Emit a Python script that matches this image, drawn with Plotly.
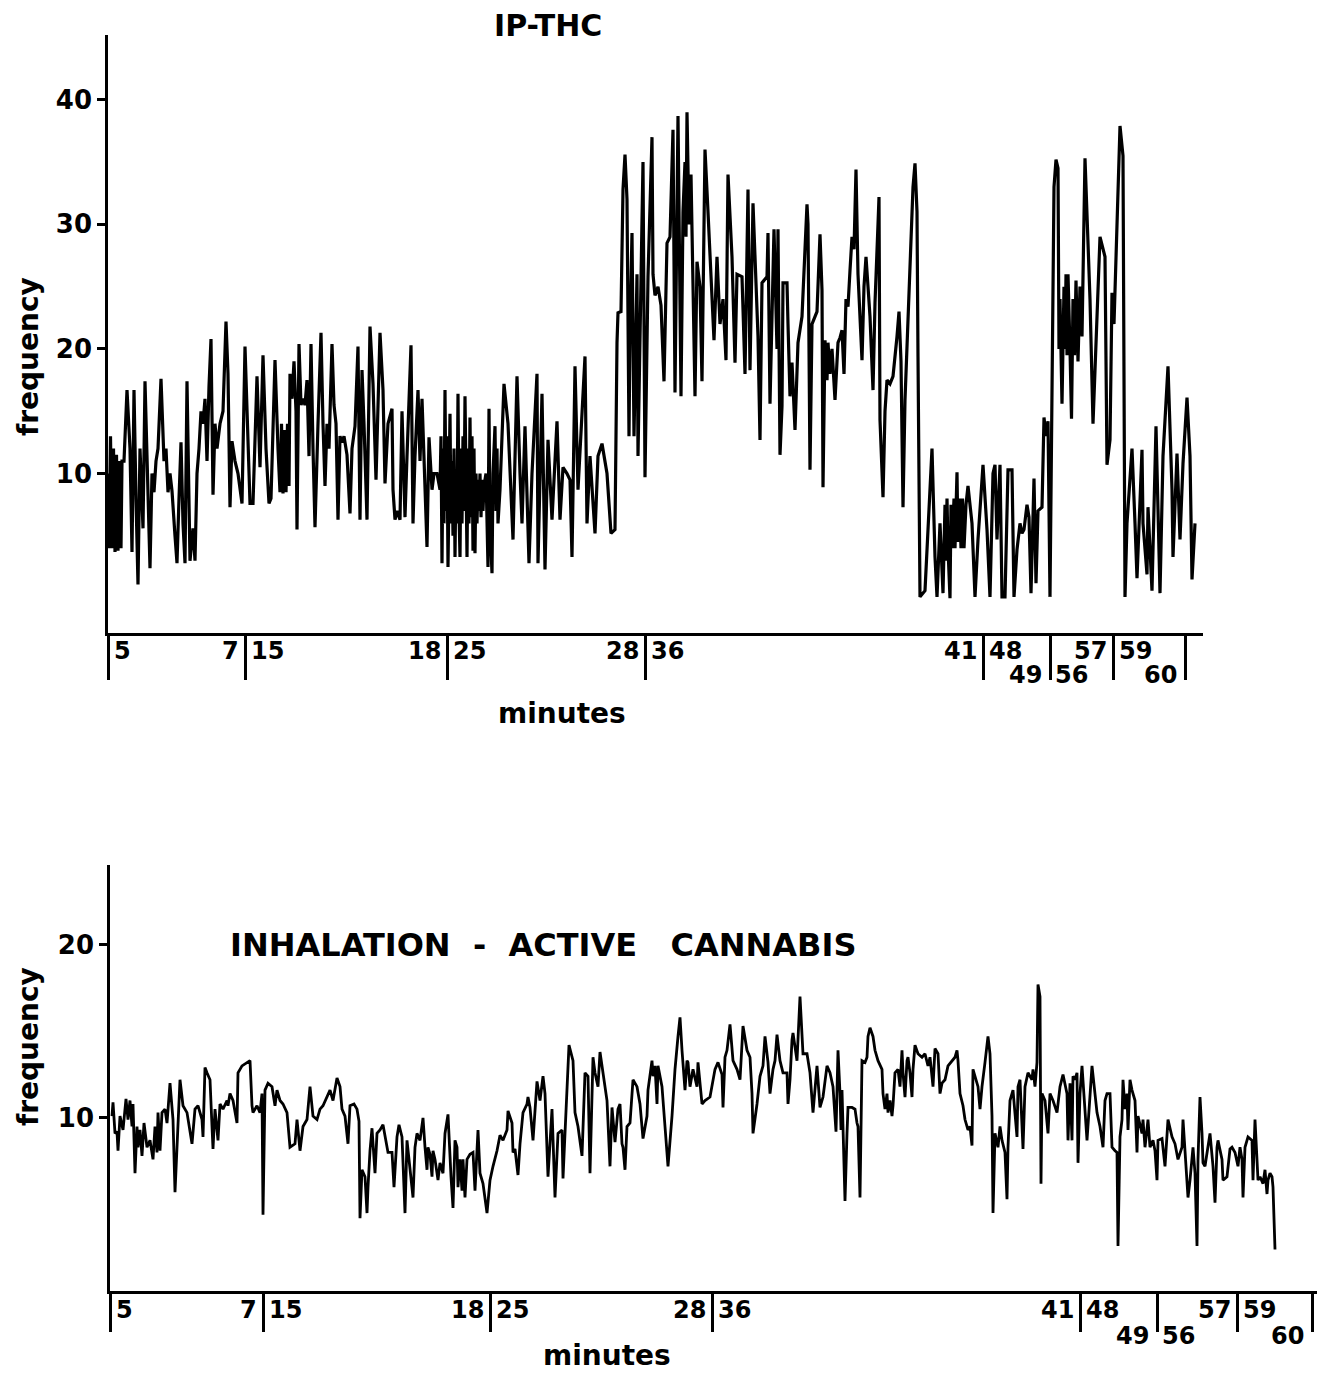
import plotly.graph_objects as go

# ---------------- DATA ----------------
# Top panel: IP-THC (recording position along the compressed time axis, frequency)
top_pos = [
    108, 109, 110.5, 112, 113.5, 115, 116.5, 118, 119.5, 121, 122, 124,
    127, 130, 132, 134, 136, 138, 140, 143, 145, 148, 150, 152,
    154, 156, 158, 161, 164, 166, 168, 170, 172, 175, 177, 179,
    181, 183, 185, 187, 189, 190, 193, 195, 197, 199, 201, 203,
    205, 207, 209, 211, 213, 215, 217, 220, 223, 226, 228, 230,
    232, 235, 238, 242, 245, 248, 250, 253, 257, 260, 263, 266,
    269, 271, 275, 278, 280, 281.5, 283, 284.5, 286, 287.5, 289, 290,
    292, 294, 296, 297, 299, 301, 303, 305, 307, 309, 311, 313,
    315, 318, 321, 323, 325, 327, 329, 332, 334, 336, 338, 340,
    342, 344, 347, 350, 352, 355, 358, 360, 362, 364, 367, 370,
    373, 376, 380, 383, 385, 388, 392, 393, 395, 397, 400, 402,
    405, 407, 411, 413, 415, 418, 420, 422, 424, 427, 429, 432,
    434, 437, 440, 441, 442, 443, 444, 445, 446, 447, 448, 449,
    450, 451, 452, 453, 454, 455, 456, 457, 458, 459, 460, 461,
    462, 463, 464, 465, 466, 467, 468, 469, 470, 471, 472, 473,
    474, 475, 476, 477, 478, 479, 480, 481, 482, 483, 484, 486,
    488, 489, 490, 492, 493, 495, 496, 497, 498, 500, 504, 508,
    513, 517, 520, 522, 525, 529, 532, 537, 538, 542, 545, 548,
    552, 557, 560, 563, 567, 570, 572, 575, 578, 585, 587, 590,
    595, 598, 602, 607, 611, 615, 617, 618, 621, 623, 625, 627,
    629, 630, 632, 634, 637, 638, 643, 645, 648, 652, 653, 655,
    658, 661, 664, 667, 670, 673, 675, 678, 681, 683, 685, 686,
    687, 689, 691, 693, 695, 697, 700, 702, 705, 708, 711, 714,
    717, 720, 723, 726, 728, 732, 735, 737, 742, 745, 748, 750,
    753, 756, 758, 760, 762, 767, 768, 770, 774, 777, 778, 780,
    782, 783, 787, 788, 790, 792, 795, 798, 802, 807, 808, 810,
    812, 817, 820, 822, 823, 825, 827, 828, 830, 832, 834, 835,
    838, 840, 842, 844, 846, 848, 850, 852, 854, 856, 858, 860,
    862, 864, 866, 868, 870, 873, 875, 878, 879, 880, 883, 885,
    887, 890, 893, 897, 899, 901, 903, 905, 910, 913, 915, 917,
    918, 920, 925, 932, 935, 937, 940, 943, 945, 946, 947, 948,
    950, 951, 952, 954, 955, 957, 958, 959.5, 961, 962.5, 964, 966,
    968, 972, 975, 978, 983, 987, 990, 993, 995, 997, 1000, 1002,
    1005, 1008, 1012, 1014, 1017, 1020, 1022, 1024, 1027, 1029, 1031, 1034,
    1036, 1038, 1042, 1044, 1046, 1048, 1050, 1054, 1056, 1058, 1059, 1060,
    1062, 1064, 1065, 1066, 1067, 1068, 1070, 1071.5, 1073, 1074.5, 1076, 1078,
    1080, 1082, 1085, 1088, 1090, 1093, 1095, 1100, 1105, 1107, 1110, 1112,
    1114, 1117, 1120, 1123, 1125, 1127, 1132, 1135, 1137, 1142, 1143, 1147,
    1148, 1152, 1156, 1160, 1163, 1168, 1172, 1173, 1177, 1180, 1183, 1187,
    1190, 1192, 1195,
]
top_freq = [
    10, 4, 13, 4, 12, 3.7, 11.5, 3.8, 11, 4, 11, 11,
    16.7, 12, 3.7, 16.7, 8, 1.1, 12, 5.6, 17.4, 9, 2.4, 10,
    8.5, 11, 12, 17.6, 11, 12, 8.5, 10, 8.6, 5, 2.8, 8,
    12.5, 6, 2.8, 17.4, 9, 3, 5.6, 3, 10, 12, 15, 14,
    16, 11, 17, 20.8, 8.3, 14, 12, 14, 15, 22.2, 18, 7.3,
    12.6, 11, 10, 7.6, 20.2, 12, 7.6, 7.6, 17.8, 10.5, 19.5, 12,
    7.6, 8, 19.1, 12, 8.5, 14, 8.4, 13.5, 8.5, 14, 9, 18,
    16, 19, 15, 5.5, 20.4, 15.5, 16, 15.5, 17.5, 11.4, 20.4, 12,
    5.7, 14, 21.3, 14, 9, 14, 12, 20.4, 15.5, 14, 6.3, 13,
    12.5, 13, 11.5, 6.8, 12, 13.8, 20.2, 6.3, 18.3, 14, 6.3, 21.8,
    17.2, 9.5, 21.3, 16.7, 9.2, 14, 15.2, 8.7, 6.3, 7, 6.3, 15,
    6.5, 11.4, 20.3, 6, 11.4, 16.7, 11, 16, 10.8, 4.1, 12.9, 8.7,
    10, 10, 8.7, 13, 2.8, 12, 6, 16.7, 7, 13, 2.5, 12,
    14.8, 6, 11, 5, 12, 3.3, 10, 6, 16.4, 7, 3.3, 12,
    6, 13, 7, 16.2, 8, 3.3, 12, 6, 14.5, 6.5, 13, 3.8,
    12, 3.6, 10, 6, 9.5, 7, 10, 6.5, 9.5, 7, 9, 10,
    2.5, 15.2, 6, 2, 10, 13.8, 7, 12, 6, 8.7, 17.2, 14,
    4.7, 17.8, 10, 6, 13.8, 2.8, 10, 18, 2.8, 16.4, 2.3, 12.7,
    6.3, 14.2, 6.3, 10.5, 10, 9.5, 3.3, 18.6, 8.7, 19.4, 6, 11.4,
    5.2, 11.4, 12.4, 10, 5.2, 5.5, 20.5, 22.9, 23, 32.8, 35.6, 32,
    13, 21.5, 29.3, 13, 26, 11.4, 35, 9.7, 25.8, 37, 26, 24.3,
    25, 23.5, 17.4, 28.5, 29, 37.6, 16.5, 38.7, 16.2, 31, 35, 29,
    39, 30, 34, 23, 16.2, 27, 25, 17.4, 36, 31, 26, 20.7,
    27.4, 22, 24, 19.1, 34, 27.4, 18.9, 26, 25.8, 18, 32.8, 18.3,
    31.7, 25.8, 21, 12.7, 25.3, 25.8, 29.3, 15.6, 29.6, 20, 29.6, 11.5,
    15.4, 25.3, 25.3, 22, 16.2, 18.9, 13.5, 20.5, 22.6, 31.6, 30, 10.3,
    22, 23, 29.2, 24.7, 8.9, 20.7, 17.5, 20.5, 18, 20, 17.5, 15.9,
    20.5, 20.9, 21.5, 18, 24, 23.4, 26.3, 29, 28, 34.4, 26, 23,
    19.1, 25, 27.4, 25, 22.6, 16.7, 23.7, 30, 32.2, 14.3, 8.1, 15,
    17.5, 17.2, 17.8, 21, 23, 19, 7.3, 15.9, 27.7, 33, 34.9, 31,
    19.4, 0.1, 0.6, 12, 3.3, 0.1, 6, 0.4, 7.5, 3, 8, 4,
    0, 7.5, 4, 8, 4, 10.1, 4.5, 8, 4, 8, 4, 7.5,
    9, 6, 0.1, 4.7, 10.7, 5.5, 0.1, 10, 10.7, 4.7, 10.7, 0.1,
    0.1, 10.3, 10.3, 0.1, 3.9, 6, 5.2, 5.5, 7.5, 6.5, 0.4, 9.6,
    1.2, 7, 7.3, 14.5, 13, 14.2, 0.1, 33, 35.2, 34.5, 20, 24,
    15.6, 25, 20, 26, 19.5, 26, 20, 14.4, 24, 19.5, 25.5, 19,
    25, 21, 35.3, 28, 24, 14, 18, 29, 27.4, 10.7, 12.7, 24.5,
    22, 30, 37.9, 35.5, 0.1, 6, 12, 6, 1.6, 11.9, 6, 1.9,
    7.3, 0.6, 13.8, 0.4, 11.4, 18.6, 8.7, 3.3, 11.6, 4.7, 10.8, 16.1,
    11.4, 1.5, 6,
]

# Bottom panel: inhalation - active cannabis
bottom_pos = [
    112, 113, 115, 117, 118, 120, 123, 126, 128, 130, 132, 133,
    135, 137, 138, 140, 142, 144, 147, 150, 153, 155, 157, 158,
    160, 162, 165, 167, 170, 173, 175, 178, 180, 183, 187, 192,
    195, 198, 202, 203, 205, 207, 210, 212, 213, 215, 218, 220,
    223, 227, 228, 230, 233, 237, 238, 242, 247, 250, 252, 253,
    257, 260, 262, 263, 265, 268, 272, 275, 277, 280, 283, 287,
    290, 295, 297, 300, 303, 307, 310, 313, 317, 320, 323, 327,
    330, 333, 337, 340, 342, 345, 348, 350, 354, 357, 359, 360,
    362, 365, 367, 368, 370, 372, 375, 377, 380, 383, 385, 388,
    392, 394, 397, 399, 402, 405, 407, 410, 413, 415, 417, 420,
    423, 425, 427, 428, 430, 432, 433, 435, 438, 440, 443, 445,
    448, 451, 453, 455, 457, 458, 460, 462, 463, 465, 467, 470,
    473, 475, 478, 480, 483, 487, 490, 493, 497, 500, 503, 507,
    508, 512, 513, 515, 518, 520, 523, 527, 528, 530, 533, 537,
    540, 543, 545, 548, 552, 555, 558, 562, 563, 565, 569, 573,
    575, 578, 582, 585, 588, 590, 592, 593, 595, 598, 600, 603,
    607, 610, 612, 615, 618, 620, 622, 623, 625, 627, 630, 633,
    637, 640, 643, 647, 648, 652, 653, 655, 657, 658, 662, 665,
    668, 672, 675, 678, 680, 682, 685, 687, 688, 690, 693, 697,
    698, 702, 705, 710, 715, 718, 722, 723, 725, 727, 730, 733,
    737, 740, 742, 743, 747, 750, 752, 753, 757, 760, 763, 765,
    768, 770, 773, 775, 777, 780, 783, 787, 788, 790, 792, 793,
    797, 800, 803, 807, 810, 813, 817, 820, 823, 827, 830, 833,
    836, 838, 840, 841, 842, 843, 845, 847, 848, 852, 855, 857,
    858, 860, 862, 865, 867, 868, 870, 873, 875, 878, 882, 883,
    885, 887, 888, 890, 892, 893, 895, 898, 900, 902, 903, 905,
    907, 908, 910, 912, 913, 915, 918, 922, 925, 928, 930, 933,
    935, 938, 940, 942, 945, 948, 952, 955, 957, 958, 960, 963,
    965, 968, 970, 972, 973, 975, 978, 980, 982, 985, 987, 988,
    990, 992, 993, 995, 998, 1000, 1002, 1005, 1007, 1008, 1010, 1013,
    1017, 1018, 1020, 1022, 1023, 1025, 1028, 1032, 1033, 1035, 1037, 1038,
    1040, 1041, 1042, 1045, 1048, 1050, 1053, 1057, 1060, 1063, 1067, 1068,
    1070, 1072, 1073, 1075, 1077, 1078, 1080, 1082, 1084, 1087, 1092, 1095,
    1097, 1100, 1103, 1105, 1107, 1110, 1112, 1115, 1117, 1118, 1120, 1122,
    1123, 1125, 1127, 1128, 1130, 1132, 1135, 1137, 1138, 1142, 1143, 1145,
    1148, 1150, 1153, 1155, 1157, 1158, 1162, 1165, 1168, 1172, 1175, 1178,
    1182, 1183, 1185, 1188, 1190, 1192, 1193, 1195, 1197, 1198, 1200, 1202,
    1203, 1205, 1208, 1210, 1213, 1215, 1217, 1218, 1222, 1223, 1227, 1230,
    1232, 1235, 1238, 1240, 1242, 1243, 1245, 1248, 1252, 1253, 1255, 1257,
    1258, 1260, 1263, 1265, 1267, 1268, 1270, 1272, 1273, 1275,
]
bottom_freq = [
    10.1, 10.9, 9.1, 9.2, 8.1, 10.1, 9.3, 11.1, 9.9, 11, 9.5, 10.8,
    6.8, 9.5, 8.3, 9.3, 7.8, 9.7, 8.3, 8.7, 7.6, 9.5, 8, 10.3,
    8.1, 10.3, 10.5, 9.7, 12, 9.9, 5.7, 10.1, 12.2, 10.7, 10.3, 8.5,
    10.5, 10.7, 9.9, 8.9, 12.9, 12.6, 12.2, 9.5, 8.2, 10.5, 8.7, 10.8,
    10.5, 11, 10.7, 11.4, 11, 9.7, 12.6, 13, 13.2, 13.3, 10.7, 10.3,
    10.7, 10.3, 11.4, 4.4, 11.6, 12, 11.8, 10.7, 11.6, 11, 10.8, 10.3,
    8.3, 8.5, 9.9, 8.1, 9.5, 9.9, 11.8, 10.1, 9.9, 10.5, 10.7, 11.2,
    11.6, 11, 12.3, 11.8, 10.5, 10.1, 8.5, 10.7, 10.8, 10.5, 9.8, 4.2,
    7, 6.6, 4.5, 6, 8.1, 9.4, 6.8, 9.1, 9.3, 9.6, 8.9, 8,
    8, 6, 8.9, 9.6, 8.9, 4.5, 8.7, 7.2, 5.4, 8.3, 9.1, 8.7,
    10, 8.3, 7, 8.3, 7.9, 6.6, 8.1, 7.6, 6.4, 7.4, 6.8, 9.1,
    10.2, 6.6, 4.8, 8.7, 8.3, 6, 7.6, 5.8, 7.6, 5.4, 7.6, 7.9,
    8, 5.8, 9.3, 6.8, 6.2, 4.5, 6.4, 7.2, 8.1, 9, 8.7, 9.3,
    10.4, 9.7, 8, 8.2, 6.7, 8.5, 10.3, 10.8, 11.2, 10.6, 8.7, 12.1,
    11, 12.4, 11.4, 6.6, 10.5, 5.4, 9.1, 9.3, 6.5, 9.1, 14.2, 13.3,
    10.3, 9.5, 7.8, 12.6, 12.4, 6.8, 12.6, 13.5, 12.6, 11.8, 13.8, 12.6,
    11, 7.2, 10.6, 8.6, 10.5, 10.8, 8.5, 8.3, 7, 9.5, 9.7, 12.2,
    11.8, 10.8, 8.8, 10.1, 11.6, 13.3, 12.4, 13, 10.8, 13, 11.8, 9.5,
    7.2, 10.1, 12.8, 14.7, 15.8, 13.9, 11.6, 13.3, 13.2, 11.8, 12.8, 11.8,
    13.2, 10.8, 11, 11.2, 12.8, 13.2, 12.5, 10.6, 13.5, 13.9, 15.4, 13.3,
    12.8, 12.2, 14.5, 15.3, 13.9, 13.5, 11.4, 9.1, 10.8, 12.4, 13, 14.7,
    13.2, 11.4, 12.8, 13.3, 14.8, 13.3, 12.6, 12.6, 10.8, 12.2, 14.5, 14.9,
    13.3, 17, 13.7, 13.7, 12.6, 10.3, 13, 10.6, 11.2, 13, 12.6, 11.8,
    9.2, 13.9, 11.4, 9.3, 11.6, 9.5, 5.2, 9.1, 10.6, 10.6, 10.5, 9.7,
    9.5, 5.4, 13.3, 13.2, 13.5, 14.7, 15.2, 14.7, 13.9, 13.3, 12.8, 11.4,
    10.5, 11.4, 10.3, 11, 10.1, 10.7, 12.6, 12.8, 11.8, 13.9, 12.6, 11.2,
    13.3, 13.5, 12.6, 11.2, 12.8, 14.2, 13.7, 13.5, 13.7, 13, 13.5, 11.8,
    14, 13.7, 11.4, 12, 12.2, 13, 13.3, 13.5, 13.9, 13.3, 11.4, 10.7,
    9.9, 9.3, 9.5, 8.4, 12.8, 12.4, 11.8, 10.5, 11.8, 13.2, 14.5, 14.7,
    13.7, 10.1, 4.5, 9.1, 8.3, 9.5, 8.7, 8, 5.3, 8.3, 11, 11.6,
    8.9, 11.8, 12.2, 9.1, 8.2, 11.8, 12.6, 12.2, 12.8, 11.8, 13.2, 17.7,
    17, 6.2, 11.4, 11, 9.1, 11.4, 11, 10.3, 11.8, 12.5, 11.4, 8.7,
    12, 8.7, 12.4, 12.2, 12.6, 7.4, 11.4, 13, 11, 8.7, 13, 11.4,
    10.3, 9.5, 8.3, 11, 11.4, 11.4, 8.3, 8.1, 8, 2.6, 8.9, 9.9,
    12.2, 10.5, 11.4, 9.3, 12.2, 11.6, 11, 8, 10.1, 9.1, 9.9, 8.3,
    9.9, 8.3, 8.7, 8.1, 6.4, 8.7, 8.8, 7.2, 9.9, 8.9, 8.5, 7.6,
    8.3, 9.9, 8.3, 5.4, 6.4, 7.6, 8.3, 6.8, 2.6, 7.6, 11.2, 9.1,
    7.4, 7.2, 8.3, 9.1, 7.2, 5.1, 8.3, 8.7, 7.6, 6.4, 6.6, 8.2,
    8.3, 8, 7.2, 8.3, 7.6, 5.4, 8.3, 8.9, 8.7, 6.4, 9.9, 7.6,
    6.4, 6.6, 6.2, 7, 5.6, 6.4, 6.8, 6.6, 6, 2.4,
]

# Segment boundaries of the compressed minute axis and their labels
top_breaks = [108, 245, 447, 645, 983, 1050, 1113, 1185]
bottom_breaks = [110, 263, 490, 712, 1080, 1157, 1237, 1312]
# (label left of break, label right of break, lower-left, lower-right)
break_labels = [
    ("", "5", "", ""),
    ("7", "15", "", ""),
    ("18", "25", "", ""),
    ("28", "36", "", ""),
    ("41", "48", "", ""),
    ("", "", "49", "56"),
    ("57", "59", "", ""),
    ("", "", "60", ""),
]
top_yticks = [10, 20, 30, 40]
bottom_yticks = [10, 20]

# ---------------- FIGURE ----------------
# The page body keeps its default 8px margin, so the figure is 16px smaller
# than the window and all layout positions are measured from the window corner.
PAD = 8
WIN_W, WIN_H = 1325, 1381
W, H = WIN_W - 2 * PAD, WIN_H - 2 * PAD
FONT = "DejaVu Sans"


def px(x):
    return min(1.0, max(0.0, (x - PAD) / W))


def py(y):
    return min(1.0, max(0.0, 1 - (y - PAD) / H))


BOTTOM_END = WIN_W - PAD  # right end of the lower axis line (window edge)

fig = go.Figure()
fig.add_trace(go.Scatter(x=top_pos, y=top_freq, mode="lines",
                         line=dict(color="black", width=3.2),
                         xaxis="x", yaxis="y", showlegend=False,
                         hoverinfo="skip"))
fig.add_trace(go.Scatter(x=bottom_pos, y=bottom_freq, mode="lines",
                         line=dict(color="black", width=2.8),
                         xaxis="x2", yaxis="y2", showlegend=False,
                         hoverinfo="skip"))

xcommon = dict(showline=True, linecolor="black", linewidth=2.5,
               ticks="outside", tickcolor="black", tickwidth=2.5,
               showticklabels=False, showgrid=False, zeroline=False,
               fixedrange=True)
ycommon = dict(showline=True, linecolor="black", linewidth=2.5,
               ticks="outside", tickcolor="black", tickwidth=2.5, ticklen=8,
               tickfont=dict(family=FONT, size=26, color="black", weight="bold"),
               showgrid=False, zeroline=False, fixedrange=True)

fig.update_layout(
    width=W, height=H,
    margin=dict(l=0, r=0, t=0, b=0),
    paper_bgcolor="white", plot_bgcolor="white",
    xaxis=dict(domain=[px(108), px(1203)], range=[108, 1203],
               tickvals=top_breaks, ticklen=44, anchor="y", **xcommon),
    yaxis=dict(domain=[py(633), py(35)], range=[-2.8, 45.2],
               tickvals=top_yticks, anchor="x", **ycommon),
    xaxis2=dict(domain=[px(110), px(BOTTOM_END)], range=[110, BOTTOM_END],
                tickvals=bottom_breaks, ticklen=38, anchor="y2", **xcommon),
    yaxis2=dict(domain=[py(1291), py(865)], range=[0, 24.6],
                tickvals=bottom_yticks, anchor="x2", **ycommon),
)

annotations = []
tick_font = dict(family=FONT, size=24, color="black", weight="bold")


def add_break_labels(xref, breaks, row1_y, row2_y):
    for pos, (l1, r1, l2, r2) in zip(breaks, break_labels):
        for text, anchor, shift, yy in ((l1, "right", -4, row1_y),
                                        (r1, "left", 4, row1_y),
                                        (l2, "right", -6, row2_y),
                                        (r2, "left", 3, row2_y)):
            if text:
                annotations.append(dict(
                    x=pos, xref=xref, y=py(yy), yref="paper", text=text,
                    showarrow=False, xanchor=anchor, yanchor="middle",
                    xshift=shift, font=tick_font))


add_break_labels("x", top_breaks, 651, 675)
add_break_labels("x2", bottom_breaks, 1310, 1336)

label_font = dict(family=FONT, size=28, color="black", weight="bold")
annotations += [
    dict(x=px(548), y=py(26), text="IP-THC",
         font=dict(family=FONT, size=30, color="black", weight="bold")),
    dict(x=px(562), y=py(713), text="minutes", font=label_font),
    dict(x=px(607), y=py(1355), text="minutes", font=label_font),
    dict(x=px(28), y=py(357), text="frequency", textangle=-90, font=label_font),
    dict(x=px(28), y=py(1047), text="frequency", textangle=-90, font=label_font),
    dict(x=px(543), y=py(945),
         text="INHALATION\u00a0\u00a0-\u00a0\u00a0ACTIVE\u00a0\u00a0\u00a0CANNABIS",
         font=dict(family=FONT, size=32, color="black", weight="bold")),
]
for a in annotations[-6:]:
    a.update(xref="paper", yref="paper", showarrow=False,
             xanchor="center", yanchor="middle")

fig.update_layout(annotations=annotations)
fig.write_html("out.html")
